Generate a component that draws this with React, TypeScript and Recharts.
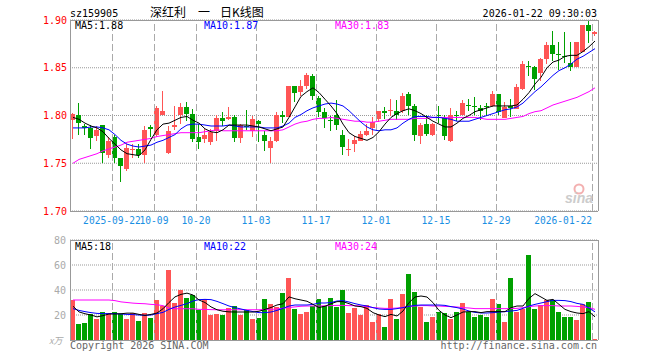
import React from 'react';
import { ComposedChart, Bar, Line, XAxis, YAxis, CartesianGrid, ReferenceLine } from 'recharts';

const dates = [
  '2025-09-11','2025-09-12','2025-09-15','2025-09-16','2025-09-17','2025-09-18','2025-09-19','2025-09-22','2025-09-23','2025-09-24','2025-09-25','2025-09-26','2025-09-29','2025-09-30',
  '2025-10-09','2025-10-10','2025-10-13','2025-10-14','2025-10-15','2025-10-16','2025-10-17','2025-10-20','2025-10-21','2025-10-22','2025-10-23','2025-10-24','2025-10-27','2025-10-28','2025-10-29','2025-10-30','2025-10-31',
  '2025-11-03','2025-11-04','2025-11-05','2025-11-06','2025-11-07','2025-11-10','2025-11-11','2025-11-12','2025-11-13','2025-11-14','2025-11-17','2025-11-18','2025-11-19','2025-11-20','2025-11-21','2025-11-24','2025-11-25','2025-11-26','2025-11-27','2025-11-28',
  '2025-12-01','2025-12-02','2025-12-03','2025-12-04','2025-12-05','2025-12-08','2025-12-09','2025-12-10','2025-12-11','2025-12-12','2025-12-15','2025-12-16','2025-12-17','2025-12-18','2025-12-19','2025-12-22','2025-12-23','2025-12-24','2025-12-25','2025-12-26','2025-12-29','2025-12-30','2025-12-31',
  '2026-01-05','2026-01-06','2026-01-07','2026-01-08','2026-01-09','2026-01-12','2026-01-13','2026-01-14','2026-01-15','2026-01-16','2026-01-19','2026-01-20','2026-01-21','2026-01-22',
];

const opens = [
  1.795,1.801,1.789,1.787,1.779,1.790,1.759,1.777,1.755,1.744,1.764,1.765,1.759,1.788,1.780,1.801,1.761,1.788,1.801,1.809,1.802,1.777,
  1.775,1.772,1.784,1.797,1.796,1.798,1.776,1.789,1.784,1.794,1.780,1.766,1.773,1.801,1.798,1.831,1.825,1.831,1.841,1.818,1.804,1.795,
  1.800,1.780,1.764,1.770,1.773,1.780,1.787,1.796,1.805,1.805,1.805,1.805,1.823,1.810,1.779,1.791,1.780,1.800,1.797,1.773,1.801,1.801,
  1.811,1.810,1.808,1.810,1.810,1.822,1.797,1.810,1.807,1.828,1.852,1.851,1.844,1.859,1.874,1.864,1.862,1.855,1.851,1.867,1.895,1.885,
];
const closes = [
  1.802,1.792,1.787,1.776,1.785,1.761,1.773,1.755,1.747,1.766,1.765,1.759,1.785,1.786,1.808,1.805,1.784,1.790,1.809,1.802,1.775,1.772,
  1.780,1.783,1.797,1.794,1.798,1.776,1.790,1.788,1.796,1.791,1.773,1.773,1.801,1.798,1.831,1.824,1.831,1.842,1.820,1.804,1.797,1.794,
  1.790,1.767,1.765,1.774,1.781,1.784,1.793,1.805,1.803,1.806,1.800,1.820,1.810,1.780,1.790,1.781,1.791,1.799,1.779,1.800,1.799,1.813,
  1.810,1.809,1.805,1.809,1.822,1.804,1.809,1.808,1.830,1.854,1.851,1.838,1.859,1.874,1.864,1.863,1.861,1.851,1.877,1.895,1.889,1.887,
];
const highs = [
  1.803,1.813,1.791,1.790,1.789,1.790,1.777,1.780,1.755,1.770,1.770,1.770,1.789,1.790,1.810,1.826,1.789,1.810,1.813,1.814,1.807,1.791,
  1.786,1.786,1.800,1.804,1.809,1.800,1.791,1.806,1.799,1.795,1.784,1.778,1.804,1.805,1.831,1.831,1.837,1.844,1.843,1.820,1.808,1.799,
  1.816,1.785,1.775,1.779,1.784,1.791,1.798,1.805,1.809,1.817,1.816,1.824,1.825,1.812,1.792,1.801,1.792,1.810,1.801,1.808,1.805,1.816,
  1.817,1.819,1.811,1.813,1.826,1.822,1.814,1.817,1.833,1.857,1.857,1.852,1.860,1.877,1.888,1.877,1.887,1.877,1.877,1.895,1.899,1.888,
];
const lows = [
  1.775,1.780,1.780,1.765,1.773,1.750,1.756,1.750,1.730,1.742,1.755,1.755,1.750,1.777,1.777,1.801,1.760,1.785,1.791,1.794,1.772,1.765,
  1.771,1.769,1.773,1.789,1.795,1.772,1.771,1.785,1.777,1.772,1.763,1.750,1.772,1.792,1.798,1.814,1.820,1.828,1.816,1.798,1.787,1.784,
  1.785,1.759,1.758,1.762,1.773,1.779,1.780,1.793,1.796,1.799,1.795,1.803,1.800,1.773,1.770,1.779,1.779,1.792,1.774,1.772,1.794,1.800,
  1.805,1.801,1.795,1.799,1.809,1.800,1.797,1.798,1.807,1.827,1.841,1.827,1.836,1.854,1.857,1.848,1.855,1.847,1.851,1.867,1.876,1.883,
];

const ma5 = [
  1.798,1.796,1.792,1.789,1.787,1.783,1.776,1.770,1.764,1.760,1.759,1.758,1.764,1.775,1.785,1.791,1.792,1.795,1.798,1.799,1.795,1.792,
  1.786,1.783,1.782,1.785,1.790,1.790,1.790,1.790,1.789,1.788,1.786,1.784,1.786,1.788,1.798,1.809,1.820,1.825,1.829,1.824,1.817,1.810,
  1.802,1.791,1.782,1.778,1.776,1.774,1.777,1.783,1.791,1.798,1.802,1.805,1.807,1.805,1.802,1.798,1.794,1.791,1.788,1.788,1.792,1.797,
  1.800,1.804,1.806,1.808,1.810,1.810,1.810,1.810,1.811,1.817,1.824,1.833,1.840,1.850,1.856,1.858,1.862,1.863,1.863,1.867,1.872,1.878,
];
const ma10 = [
  1.787,1.787,1.787,1.788,1.788,1.787,1.785,1.780,1.774,1.770,1.768,1.767,1.768,1.769,1.772,1.774,1.777,1.780,1.786,1.790,1.791,1.791,
  1.790,1.789,1.789,1.789,1.790,1.789,1.788,1.788,1.788,1.788,1.787,1.787,1.787,1.789,1.792,1.798,1.801,1.805,1.808,1.810,1.812,1.813,
  1.812,1.810,1.805,1.799,1.793,1.788,1.785,1.784,1.785,1.785,1.787,1.792,1.796,1.799,1.799,1.799,1.798,1.798,1.797,1.796,1.794,1.794,
  1.794,1.796,1.798,1.800,1.802,1.804,1.806,1.807,1.809,1.813,1.819,1.825,1.830,1.836,1.842,1.847,1.850,1.854,1.859,1.862,1.866,1.870,
];
const ma30 = [
  1.750,1.754,1.756,1.758,1.760,1.763,1.765,1.767,1.769,1.772,1.773,1.774,1.775,1.776,1.778,1.779,1.780,1.781,1.782,1.782,1.782,1.782,
  1.783,1.784,1.785,1.784,1.784,1.784,1.784,1.784,1.784,1.784,1.784,1.784,1.784,1.785,1.788,1.791,1.793,1.794,1.796,1.797,1.797,1.798,
  1.797,1.796,1.795,1.794,1.794,1.793,1.793,1.794,1.795,1.796,1.796,1.796,1.796,1.797,1.797,1.797,1.798,1.798,1.798,1.798,1.798,1.798,
  1.798,1.798,1.797,1.796,1.796,1.796,1.796,1.797,1.798,1.799,1.802,1.804,1.805,1.808,1.811,1.813,1.815,1.817,1.819,1.822,1.825,1.829,
];

const volumes = [
  32,13.1,13.9,20.5,17.1,22.7,21.3,22.7,20.5,17.1,21.9,15.5,21.9,17.9,31.7,27,56.3,29.9,39.7,33.9,35.7,23.7,
  32.5,19.7,21.1,20,25.9,27.2,20,23.7,16.5,17.9,33.1,28.5,26.7,37.3,49.3,25.1,21.1,22.7,27.2,32.5,27.2,33.9,
  26.7,39.7,21.9,25.9,19.7,27.7,14.7,21.1,10.7,33.1,17.1,37.1,52.5,38.7,26.7,14.7,18.7,22.7,21.9,16.5,22.7,29.9,
  22.7,18.7,20,18.7,32.5,28.5,14.7,49.3,22.7,25.1,67.7,25.1,27.7,31.7,31.7,22.7,18.7,18.7,15.7,28.5,30.7,1,
];
const vma5 = [
  27,22.5,21,20,18.5,19.5,20.8,20.8,21,21.5,21.5,20.5,19.7,20.5,21.6,25,30,34.5,36.5,37.5,36,32,
  30,26.5,24.2,23,22.5,22.4,22.4,22.4,22.4,23,24.5,26,28,29,34.5,33,32,31,28.5,26,27,29,
  30.7,30.7,29.1,27.2,26.7,25.3,21.9,20,18.7,20.5,19.2,23.2,29.9,34.4,35.2,34.4,29.9,23.7,20,17.9,20,22.4,
  22.7,22.7,21.9,22.7,22.7,22.7,22.7,25.9,27.2,27.2,33.3,37.1,34.4,31.7,32.5,28.5,24.5,22.7,21.6,21.1,22.7,18.5,
];
const vma10 = [
  25.1,23.7,22.7,21.9,21.3,21.1,21.1,21.1,20.8,20.5,20.3,20,19.7,20,21.1,22.1,24.5,26.4,27.7,29.1,31.2,32.3,
  32.5,32.3,30.9,29.1,27.2,25.9,24.8,23.7,22.7,21.9,21.9,22.4,23.7,25.3,27.2,28,28,28,28.5,29.6,29.6,30,
  31.2,31.5,30.4,29.1,28,27.2,25.9,24.8,24.5,24.5,25.1,25.9,26.9,27.7,28,28,28,28,27.7,26.7,25.9,24.8,
  23.2,22.1,21.6,21.6,21.9,22.4,22.7,23.2,23.7,25.3,27.2,28.5,29.6,30.7,31.7,31.7,31.5,30.7,29.3,28.5,25.5,22.5,
];
const vma30 = [
  32,32,32,32,32,32,32,31.5,30.5,30,29.5,29.2,29,28.5,28.2,27.5,25.5,25,25,25,25,24.5,
  24.5,24.3,24.2,24.2,24.2,24.2,24.2,24.2,24.2,24.2,24.5,24.5,24.8,25.5,26,26.5,27,27.2,27.2,27.2,27.4,27.5,
  27.7,27.7,27.5,27.5,27.2,26.7,25.9,25.6,25.3,25.3,25.6,26.1,26.9,27.2,27.5,27.5,27.2,27.2,26.9,26.7,26.4,25.9,
  25.6,25.1,25.1,25.1,25.1,25.1,25.1,25.1,25.3,25.9,26.7,27.2,27.5,27.5,27.5,27.2,27.2,27.2,26.9,26.4,25.9,24.5,
];

const tickDates = ['2025-09-22','2025-10-09','2025-10-20','2025-11-03','2025-11-17','2025-12-01','2025-12-15','2025-12-29','2026-01-22'];
const tickLabels = ['2025-09-22','10-09','10-20','11-03','11-17','12-01','12-15','12-29','2026-01-22'];
const priceTicks = [1.7, 1.75, 1.8, 1.85, 1.9];
const volTicks = [20, 40, 60, 80];

const title = { code: 'sz159905', name: '深红利', sep: '一', kind: '日K线图', time: '2026-01-22 09:30:03' };
const priceLegend = ['MA5:1.88', 'MA10:1.87', 'MA30:1.83'];
const volLegend = ['MA5:18', 'MA10:22', 'MA30:24'];

const W = 660;
const LEFT = 70;
const RIGHT_M = 62;
const PLOT_W = W - LEFT - RIGHT_M;
const HALF_BAND = PLOT_W / dates.length / 2;
const MONO = '"DejaVu Sans Mono", "Liberation Mono", monospace';
const RED = '#ff5555';
const GREEN = '#00a000';
const GRID = '#999';
const VGRID = '#aaa';

const rows = dates.map((date, i) => ({
  date,
  open: opens[i],
  close: closes[i],
  high: highs[i],
  low: lows[i],
  range: [lows[i], highs[i]],
  ma5: ma5[i],
  ma10: ma10[i],
  ma30: ma30[i],
  vol: volumes[i],
  vma5: vma5[i],
  vma10: vma10[i],
  vma30: vma30[i],
}));

const renderCandle = (props: any) => {
  const { x, y, width, height, payload } = props;
  if (!payload) return <g />;
  const { open, close, high, low } = payload;
  const color = close >= open ? RED : GREEN;
  const k = high > low ? height / (high - low) : 0;
  const yOf = (v: number) => y + (high - v) * k;
  const bx = Math.round(x);
  const bw = Math.max(1, Math.round(width) - 1);
  const cx = bx + Math.floor(bw / 2) + 0.5;
  const top = Math.round(yOf(Math.max(open, close)));
  const bot = Math.round(yOf(Math.min(open, close)));
  const bh = Math.max(1, bot - top);
  return (
    <g>
      <line x1={cx} x2={cx} y1={Math.round(y)} y2={Math.round(y + height)} stroke={color} strokeWidth={1} />
      <rect x={bx} y={top} width={bw} height={bh} fill={color} />
    </g>
  );
};

const renderVol = (props: any) => {
  const { x, y, width, height, payload } = props;
  if (!payload) return <g />;
  const color = payload.close >= payload.open ? RED : GREEN;
  const top = Math.round(y);
  const bot = Math.round(y + height);
  return <rect x={Math.round(x)} y={top} width={Math.max(1, Math.round(width) - 1)} height={Math.max(1, bot - top)} fill={color} />;
};

const renderXTick = (props: any) => {
  const { x, y, payload } = props;
  const idx = tickDates.indexOf(payload.value);
  if (idx < 0) return <g />;
  const last = idx === tickDates.length - 1;
  return (
    <text x={x - HALF_BAND} y={y + 13} textAnchor={last ? 'end' : 'middle'} fill="#1a8fe3" fontSize={9.6} fontFamily={MONO}>
      {tickLabels[idx]}
    </text>
  );
};

export default function App() {
  const vLines = tickDates.map((d) => (
    <ReferenceLine key={'v' + d} x={d} position="start" stroke={VGRID} strokeDasharray="7 3" shapeRendering="crispEdges" />
  ));
  return (
    <div style={{ position: 'absolute', left: 0, top: 0, width: 660, height: 360, background: '#fff', overflow: 'hidden' }}>
      <div style={{ position: 'absolute', left: 0, top: 0 }}>
        <ComposedChart width={W} height={235} data={rows} margin={{ top: 20, right: RIGHT_M, bottom: 4, left: 0 }} barCategoryGap={0} barGap={0}>
          <CartesianGrid vertical={false} stroke={GRID} strokeDasharray="1 1" />
          <XAxis dataKey="date" ticks={tickDates} interval={0} tickLine={false} axisLine={false} tickSize={0} tickMargin={0} height={20} tick={renderXTick} />
          <YAxis
            domain={[1.7, 1.9]}
            ticks={priceTicks}
            allowDataOverflow
            width={LEFT}
            tickLine={false}
            axisLine={false}
            tickSize={0}
            tickMargin={3}
            tick={{ fill: '#f00', fontSize: 10, fontFamily: MONO }}
            tickFormatter={(v: number) => v.toFixed(2)}
          />
          {vLines}
          <ReferenceLine y={1.9} stroke={GRID} shapeRendering="crispEdges" />
          <ReferenceLine y={1.7} stroke={GRID} shapeRendering="crispEdges" />
          <ReferenceLine x={dates[0]} position="start" stroke={GRID} shapeRendering="crispEdges" />
          <ReferenceLine x={dates[dates.length - 1]} position="end" stroke={GRID} shapeRendering="crispEdges" />
          <Bar dataKey="range" shape={renderCandle} isAnimationActive={false} />
          <Line type="linear" dataKey="ma30" stroke="#f0f" strokeWidth={1} dot={false} activeDot={false} isAnimationActive={false} />
          <Line type="linear" dataKey="ma10" stroke="#00f" strokeWidth={1} dot={false} activeDot={false} isAnimationActive={false} />
          <Line type="linear" dataKey="ma5" stroke="#000" strokeWidth={1} dot={false} activeDot={false} isAnimationActive={false} />
        </ComposedChart>
      </div>
      <div style={{ position: 'absolute', left: 0, top: 230 }}>
        <ComposedChart width={W} height={115} data={rows} margin={{ top: 10, right: RIGHT_M, bottom: 5, left: 0 }} barCategoryGap={0} barGap={0}>
          <CartesianGrid vertical={false} stroke={GRID} strokeDasharray="1 1" />
          <XAxis dataKey="date" hide />
          <YAxis
            domain={[0, 80]}
            ticks={volTicks}
            allowDataOverflow
            width={LEFT}
            tickLine={false}
            axisLine={false}
            tickSize={0}
            tickMargin={4}
            tick={{ fill: '#aaa', fontSize: 10, fontFamily: MONO }}
          />
          {vLines}
          <ReferenceLine y={80} stroke={GRID} shapeRendering="crispEdges" />
          <ReferenceLine y={0} stroke={GRID} shapeRendering="crispEdges" />
          <ReferenceLine x={dates[0]} position="start" stroke={GRID} shapeRendering="crispEdges" />
          <ReferenceLine x={dates[dates.length - 1]} position="end" stroke={GRID} shapeRendering="crispEdges" />
          <Bar dataKey="vol" shape={renderVol} isAnimationActive={false} />
          <Line type="linear" dataKey="vma30" stroke="#f0f" strokeWidth={1} dot={false} activeDot={false} isAnimationActive={false} />
          <Line type="linear" dataKey="vma10" stroke="#00f" strokeWidth={1} dot={false} activeDot={false} isAnimationActive={false} />
          <Line type="linear" dataKey="vma5" stroke="#000" strokeWidth={1} dot={false} activeDot={false} isAnimationActive={false} />
        </ComposedChart>
      </div>
      <svg width={660} height={360} style={{ position: 'absolute', left: 0, top: 0, pointerEvents: 'none' }}>
        <text x={70} y={16.5} fontSize={10} fontFamily={MONO} fill="#000">{title.code}</text>
        <text x={150} y={16.5} fontSize={12} fontFamily='"Noto Sans CJK SC"' fill="#000">{title.name}</text>
        <text x={198} y={16.5} fontSize={12} fontFamily='"Noto Sans CJK SC"' fill="#000">{title.sep}</text>
        <text x={220} y={16.5} fontSize={12} fontFamily='"Noto Sans CJK SC"' fill="#000">{title.kind}</text>
        <text x={597} y={16.5} textAnchor="end" fontSize={10} fontFamily={MONO} fill="#000">{title.time}</text>
        <text x={75} y={29} fontSize={10} fontFamily={MONO} fill="#000">{priceLegend[0]}</text>
        <text x={204} y={29} fontSize={10} fontFamily={MONO} fill="#00f">{priceLegend[1]}</text>
        <text x={335} y={29} fontSize={10} fontFamily={MONO} fill="#f0f">{priceLegend[2]}</text>
        <text x={75} y={250} fontSize={10} fontFamily={MONO} fill="#000">{volLegend[0]}</text>
        <text x={204} y={250} fontSize={10} fontFamily={MONO} fill="#00f">{volLegend[1]}</text>
        <text x={335} y={250} fontSize={10} fontFamily={MONO} fill="#f0f">{volLegend[2]}</text>
        <text x={49} y={344} fontSize={9} fontFamily='"Noto Sans CJK SC"' fill="#aaa" fontStyle="italic">x万</text>
        <text x={70} y={348.5} fontSize={10} fontFamily={MONO} fill="#666">Copyright 2026 SINA.COM</text>
        <text x={597} y={348.5} textAnchor="end" fontSize={10} fontFamily={MONO} fill="#666">http://finance.sina.com.cn</text>
        <circle cx={579} cy={189} r={4.5} fill="none" stroke="#f3b0b0" strokeWidth={2} />
        <text x={565} y={203} fontSize={14} fontWeight="bold" fontStyle="italic" fontFamily="Arial, Liberation Sans, sans-serif" fill="#ccc">sina</text>
      </svg>
    </div>
  );
}
